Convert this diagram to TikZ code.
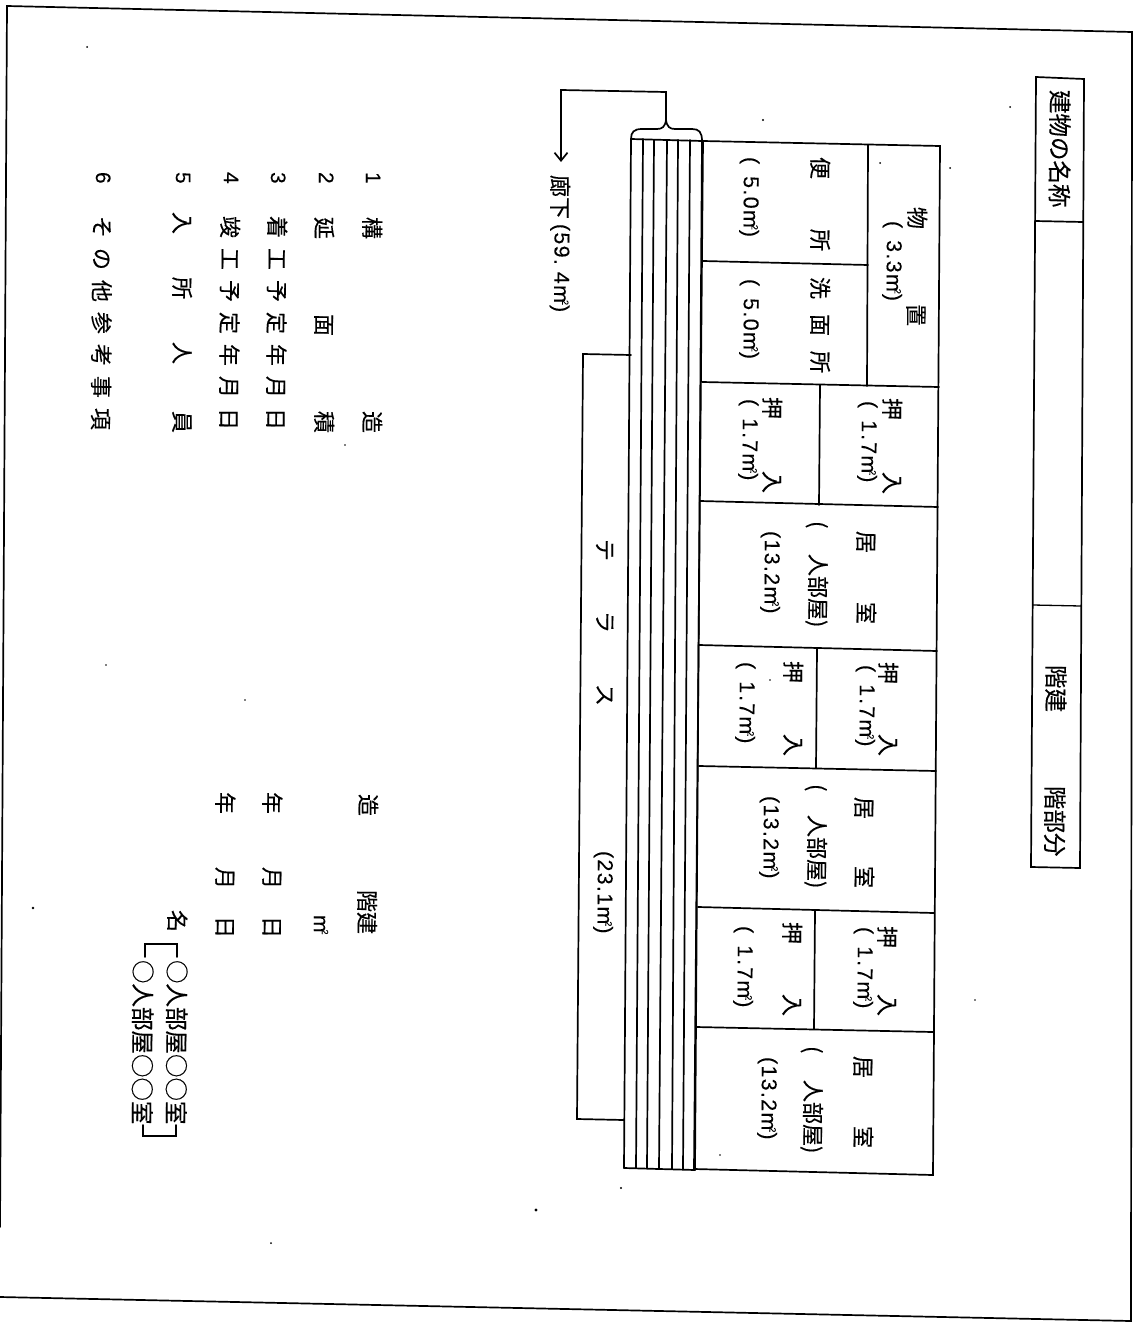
\documentclass[tikz,border=0pt]{standalone}
\usepackage{fontspec}
\newfontfamily\jpf[FakeBold=0.25]{Noto Sans CJK JP}
\newfontfamily\latf[LetterSpace=6,FakeBold=0.1]{Liberation Sans}
\usetikzlibrary{arrows.meta}
\newcommand\msq{m\kern-3pt\raisebox{8pt}{\fontsize{9}{9}\selectfont 2}}
\newcommand\areatxt[1]{\raisebox{3pt}{\latf\fontsize{21.5}{21.5}\selectfont(#1\msq)}}
\newcommand\T[4]{\node[lbl] (#1) at (#2,#3) {#4};}
\newcommand\Tb[4]{\node[lbl,big] (#1) at (#2,#3) {#4};}
\newcommand\G{\hspace{10pt}}
\newcommand\gp{\kern12pt}
\newcommand\oneseven{\gp 1\kern2pt.\kern2pt 7}
\tikzset{
 lbl/.style={rotate=-90.4,anchor=west,inner sep=0pt,outer sep=0pt,text height=18.5pt,text depth=2.5pt,
   font=\fontsize{22}{22}\selectfont\jpf,text=black},
 big/.style={font=\fontsize{23.5}{23.5}\selectfont\jpf,text height=20pt,text depth=2.5pt},
 num/.style={font=\fontsize{21}{21}\selectfont\latf,text height=14.5pt,text depth=2.5pt},
 wall/.style={draw=black,line width=1.7pt,line cap=round,line join=miter},
 thin wall/.style={draw=black,line width=1.3pt,line cap=round},
 speck/.style={fill=black,draw=none}
}
\begin{document}
\begin{tikzpicture}[x=1pt,y=-1pt]
\useasboundingbox (0,0) rectangle (1133,1322);
\fill[white] (0,0) rectangle (1133,1322);
% page frame
\coordinate (f1) at (7,6);
\coordinate (f2) at (1132,32);
\coordinate (f3) at (1131,1321);
\coordinate (f4) at (0,1297);
\coordinate (f5) at (0,1227);
\draw[wall] (f5) -- (f1) -- (f2) -- (f3) -- (f4);
% title box
\coordinate (b1) at (1036,77);
\coordinate (b2) at (1084,79);
\coordinate (b3) at (1080,868);
\coordinate (b4) at (1031,867);
\draw[wall] (b1) -- (b2) -- (b3) -- (b4) -- cycle;
\coordinate (d1a) at (1035,221);
\coordinate (d1b) at (1083,222);
\coordinate (d2a) at (1033,605);
\coordinate (d2b) at (1081,606);
\draw[wall] (d1a) -- (d1b);
\draw[thin wall] (d2a) -- (d2b);
\Tb{t1}{1060}{90}{建物の名称}
\Tb{t2}{1056}{665}{階建}
\Tb{t3}{1055}{786}{階部分}
% rooms
\coordinate (p1) at (703,141);
\coordinate (p2) at (940,146);
\coordinate (p3) at (933,1175);
\coordinate (p4) at (694,1169);
\draw[wall] (p1) -- (p2) -- (p3) -- (p4) -- cycle;
\coordinate (a1) at (868,145); \coordinate (a2) at (867,386);
\draw[wall] (a1) -- (a2);
\coordinate (a3) at (703,261); \coordinate (a4) at (868,265);
\draw[wall] (a3) -- (a4);
\coordinate (c1) at (702,382); \coordinate (c2) at (939,387);
\coordinate (c3) at (700,501); \coordinate (c4) at (938,507);
\coordinate (c5) at (699,645); \coordinate (c6) at (937,651);
\coordinate (c7) at (699,766); \coordinate (c8) at (936,771);
\coordinate (c9) at (698,907); \coordinate (c10) at (934,913);
\coordinate (c11) at (696,1027); \coordinate (c12) at (933,1032);
\draw[wall] (c1)--(c2) (c3)--(c4) (c5)--(c6) (c7)--(c8) (c9)--(c10) (c11)--(c12);
\coordinate (e1) at (820,385); \coordinate (e2) at (819,505);
\coordinate (e3) at (817,649); \coordinate (e4) at (816,768);
\coordinate (e5) at (815,911); \coordinate (e6) at (814,1029);
\draw[wall] (e1)--(e2) (e3)--(e4) (e5)--(e6);
% corridor
\coordinate (k1) at (631,139); \coordinate (l1) at (624,1168);
\coordinate (k2) at (643,139); \coordinate (l2) at (636,1168);
\coordinate (k3) at (654,140); \coordinate (l3) at (647,1168);
\coordinate (k4) at (667,140); \coordinate (l4) at (659,1169);
\coordinate (k5) at (678,140); \coordinate (l5) at (672,1169);
\coordinate (k6) at (690,140); \coordinate (l6) at (683,1169);
\coordinate (k7) at (702,141); \coordinate (l7) at (695,1170);
\draw[wall] (k1)--(l1) (k2)--(l2) (k3)--(l3) (k4)--(l4) (k5)--(l5) (k6)--(l6) (k7)--(l7);
\draw[wall] (k1)--(k7) (l1)--(l7);
% brace and leader
\coordinate (br) at (666,120);
\coordinate (ld1) at (666,92);
\coordinate (ld2) at (561,90);
\coordinate (ld3) at (561,162);
\draw[wall] (k1) .. controls (631,132) and (634,129) .. (642,129) -- (657,129)
  .. controls (662,129) and (665,127) .. (br)
  .. controls (667,127) and (670,129) .. (675,129) -- (692,129)
  .. controls (699,129) and (702,132) .. (k7);
\draw[wall,-{Straight Barb[length=8pt,width=13pt]}] (br) -- (ld1) -- (ld2) -- (ld3);
% terrace
\coordinate (g1) at (631,355); \coordinate (g2) at (583,354);
\coordinate (g3) at (577,1119); \coordinate (g4) at (624,1120);
\draw[wall] (g1)--(g2)--(g3)--(g4);
% plan labels
\node[lbl] (n1) at (560,175) {廊下 \areatxt{59.\kern7pt 4}};
\T{n2}{917}{207}{物} \T{n3}{916}{304}{置}
\T{n4}{892}{221}{\areatxt{\gp 3.3}}
\T{n5}{820}{157}{便} \T{n6}{820}{229}{所}
\T{n7}{749}{157}{\areatxt{\gp 5.0}}
\T{n8}{820}{277}{洗} \T{n9}{820}{314}{面} \T{n10}{820}{351}{所}
\T{n11}{749}{279}{\areatxt{\gp 5.0}}
\T{n12}{892}{398}{押} \T{n13}{892}{472}{入}
\T{n14}{867}{401}{\areatxt{\oneseven}}
\T{n15}{772}{397}{押} \T{n16}{772}{471}{入}
\T{n17}{748}{399}{\areatxt{\oneseven}}
\T{n18}{866}{531}{居} \T{n19}{866}{602}{室}
\T{n20}{818}{521}{(} \T{n21}{818}{554}{人部屋)}
\T{n22}{770}{531}{\areatxt{13.2}}
\T{n23}{888}{662}{押} \T{n24}{888}{734}{入}
\T{n25}{865}{665}{\areatxt{\oneseven}}
\T{n26}{793}{661}{押} \T{n27}{793}{734}{入}
\T{n28}{745}{662}{\areatxt{\oneseven}}
\T{n29}{864}{797}{居} \T{n30}{864}{866}{室}
\T{n31}{817}{784}{(} \T{n32}{817}{815}{人部屋)}
\T{n33}{769}{796}{\areatxt{13.2}}
\T{n34}{887}{926}{押} \T{n35}{887}{994}{入}
\T{n36}{863}{927}{\areatxt{\oneseven}}
\T{n37}{792}{922}{押} \T{n38}{792}{994}{入}
\T{n39}{743}{926}{\areatxt{\oneseven}}
\T{n40}{863}{1056}{居} \T{n41}{863}{1126}{室}
\T{n42}{813}{1046}{(} \T{n43}{813}{1080}{人部屋)}
\T{n44}{767}{1057}{\areatxt{13.2}}
\T{n45}{605}{539}{テ} \T{n46}{605}{611}{ラ} \T{n47}{605}{684}{ス}
\T{n48}{603}{851}{\areatxt{23.1}}
% list
\node[lbl,num] (q1) at (372,172) {1};
\node[lbl,num] (q2) at (325,172) {2};
\node[lbl,num] (q3) at (277,172) {3};
\node[lbl,num] (q4) at (230,172) {4};
\node[lbl,num] (q5) at (182,172) {5};
\node[lbl,num] (q6) at (102,172) {6};
\T{r1}{372}{217}{構} \T{r2}{372}{411}{造}
\T{r3}{324}{217}{延} \T{r4}{324}{314}{面} \T{r5}{324}{411}{積}
\T{r6}{277}{216}{着\G 工\G 予\G 定\G 年\G 月\G 日}
\T{r7}{230}{216}{竣\G 工\G 予\G 定\G 年\G 月\G 日}
\T{r8}{182}{212}{入} \T{r9}{182}{277}{所} \T{r10}{182}{342}{人} \T{r11}{182}{411}{員}
\T{r12}{102}{216}{そ\G の\G 他\G 参\G 考\G 事\G 項}
\T{s1}{368}{794}{造} \T{s2}{367}{890}{階建}
\node[lbl,num] (s3) at (320,915) {\msq};
\T{s4}{272}{792}{年} \T{s5}{272}{867}{月} \T{s6}{272}{916}{日}
\T{s7}{225}{792}{年} \T{s8}{225}{867}{月} \T{s9}{225}{916}{日}
\T{s10}{177}{910}{名}
\Tb{s11}{177}{960}{○人部屋○○室}
\Tb{s12}{143}{960}{○人部屋○○室}
% brackets
\coordinate (u1) at (177,957); \coordinate (u2) at (177,944);
\coordinate (u3) at (145,944); \coordinate (u4) at (145,957);
\draw[wall] (u1)--(u2)--(u3)--(u4);
\coordinate (v1) at (176,1125); \coordinate (v2) at (176,1136);
\coordinate (v3) at (143,1136); \coordinate (v4) at (143,1125);
\draw[wall] (v1)--(v2)--(v3)--(v4);
% scan specks
\foreach \sx/\sy/\sr in {87/47/1,763/120/1.2,880/163/1,950/168/1,33/908/1.3,536/1210/1.6,271/1243/1,621/1188/1.2,
  1010/107/1,770/680/0.8,975/1000/0.8,345/445/0.8,720/1155/0.8,106/665/0.8,245/700/0.8}
  \fill[speck] (\sx,\sy) circle (\sr pt);
\end{tikzpicture}
\end{document}
